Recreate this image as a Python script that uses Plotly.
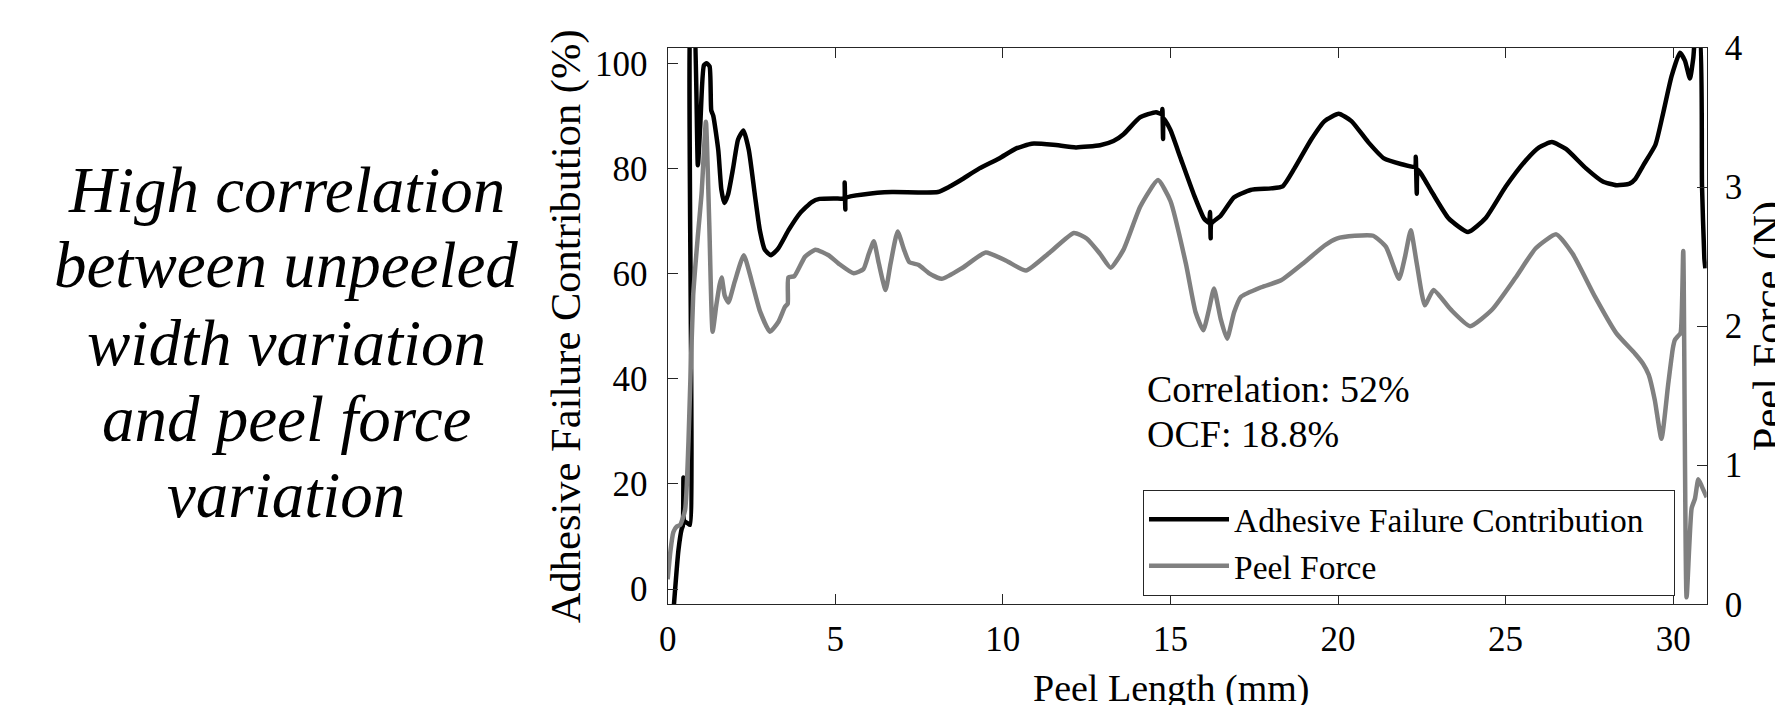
import plotly.graph_objects as go

# ---------------- data ----------------
afc_x = [0.17, 0.32, 0.42, 0.45, 0.47, 0.49, 0.60, 0.665, 0.70, 0.76, 0.90, 0.97, 1.08, 1.16, 1.25,
         1.30, 1.36, 1.51, 1.60, 1.69, 1.80, 1.95, 2.10, 2.26, 2.42, 2.60, 2.75, 2.90, 3.08, 3.30,
         3.61, 3.95, 4.30, 4.53, 5.00, 5.26, 5.28, 5.30, 5.32, 5.89, 6.69, 8.06, 8.40, 8.75, 9.30,
         9.89, 10.40, 10.86, 11.50, 12.18, 12.90, 13.30, 13.60, 14.09, 14.57, 14.74, 14.76, 14.78,
         14.80, 15.00, 15.30, 15.70, 16.00, 16.15, 16.18, 16.20, 16.22, 16.50, 16.90, 17.39, 18.00,
         18.35, 18.70, 19.20, 19.60, 20.02, 20.40, 20.90, 21.37, 21.90, 22.30, 22.32, 22.35, 22.38,
         22.80, 23.30, 23.88, 24.40, 25.00, 25.60, 26.00, 26.38, 26.80, 27.40, 27.90, 28.31, 28.70,
         28.87, 29.10, 29.47, 29.70, 29.95, 30.20, 30.35, 30.50, 30.60, 30.68, 30.78, 30.86, 30.93,
         30.96]
afc_pct = [-4.3, 7.4, 11.5, 12.0, 21.2, 13.0, 12.5, 12.2, 112.0, 112.0, 80.6, 88.0, 99.6, 100.0, 99.4,
           91.0, 90.0, 83.4, 76.0, 73.4, 75.0, 80.0, 85.5, 87.2, 83.5, 75.0, 68.2, 64.5, 63.5, 64.8,
           68.3, 71.5, 73.6, 74.2, 74.3, 74.3, 77.3, 72.2, 74.4, 75.1, 75.5, 75.5, 76.5, 77.8, 80.0,
           81.9, 83.8, 84.7, 84.5, 84.0, 84.4, 85.2, 86.5, 89.7, 90.7, 90.3, 91.3, 85.6,
           89.5, 87.3, 82.0, 75.0, 70.5, 69.6, 71.7, 66.7, 69.5, 71.0, 74.5, 75.9, 76.2,
           76.6, 80.0, 85.5, 89.0, 90.4, 89.0, 85.0, 81.9, 80.8, 80.3, 82.2, 75.2, 79.8,
           75.5, 70.5, 67.9, 70.5, 76.5, 81.5, 84.0, 85.0, 83.7, 80.0, 77.5, 76.8, 77.1,
           78.0, 80.5, 84.5, 90.5, 97.5, 102.0, 100.5, 97.1, 101.0, 106.0, 106.0, 76.7, 62.9,
           61.0]

force_x = [0.00, 0.08, 0.17, 0.27, 0.37, 0.52, 0.62, 0.76, 0.90, 1.01, 1.14, 1.24, 1.34, 1.45, 1.55,
           1.61, 1.70, 1.81, 2.00, 2.27, 2.50, 2.75, 3.05, 3.30, 3.50, 3.58, 3.60, 3.78, 4.10, 4.41,
           4.80, 5.10, 5.55, 5.84, 6.00, 6.15, 6.30, 6.50, 6.65, 6.86, 7.05, 7.21, 7.49, 7.80, 8.18,
           8.80, 9.49, 10.10, 10.69, 11.40, 12.12, 12.50, 12.90, 13.22, 13.60, 14.10, 14.63, 15.00,
           15.46, 15.75, 15.98, 16.15, 16.30, 16.50, 16.69, 16.90, 17.10, 17.71, 18.30, 19.00, 19.60,
           19.96, 20.50, 21.05, 21.43, 21.82, 22.00, 22.17, 22.35, 22.59, 22.85, 23.36, 23.94, 24.60,
           25.30, 25.90, 26.51, 27.00, 27.67, 28.30, 28.87, 29.10, 29.27, 29.45, 29.65, 29.85, 29.99,
           30.05, 30.15, 30.22, 30.30, 30.40, 30.55, 30.65, 30.75, 30.85, 31.00]
force_n = [0.18, 0.38, 0.52, 0.56, 0.57, 0.68, 1.17, 2.22, 2.65, 2.95, 3.47, 2.74, 1.96, 2.15, 2.30,
           2.35, 2.22, 2.17, 2.32, 2.51, 2.33, 2.11, 1.96, 2.03, 2.14, 2.16, 2.35, 2.36, 2.50, 2.55,
           2.51, 2.45, 2.38, 2.41, 2.52, 2.61, 2.45, 2.26, 2.45, 2.68, 2.55, 2.46, 2.44, 2.38, 2.34,
           2.42, 2.53, 2.47, 2.40, 2.53, 2.67, 2.63, 2.52, 2.42, 2.55, 2.86, 3.05, 2.90,
           2.45, 2.10, 1.97, 2.12, 2.27, 2.05, 1.91, 2.10, 2.21, 2.28, 2.33, 2.46, 2.58,
           2.63, 2.65, 2.65, 2.57, 2.34, 2.50, 2.69, 2.45, 2.15, 2.26, 2.12, 2.00, 2.12,
           2.35, 2.56, 2.66, 2.52, 2.21, 1.95, 1.80, 1.73, 1.65, 1.47, 1.19, 1.58, 1.84,
           1.90, 1.93, 1.95, 2.54, 0.05, 0.69, 0.76, 0.90, 0.85, 0.77]

x_ticks = [0, 5, 10, 15, 20, 25, 30]
left_ticks = [0, 20, 40, 60, 80, 100]
right_ticks = [0, 1, 2, 3, 4]

series_names = ["Adhesive Failure Contribution", "Peel Force"]
side_lines = ["High correlation", "between unpeeled", "width variation",
              "and peel force", "variation"]
stats_lines = ["Correlation: 52%", "OCF: 18.8%"]

# ---------------- figure ----------------
W, H = 1775, 705
FONT = "Liberation Serif"
AX = "#262626"
PAD = "\u00a0" * 3   # trailing room inside the legend box, as in the reference

def px(x):
    return x / W

def py(y):
    return (H - y) / H

fig = go.Figure()
fig.add_trace(go.Scatter(x=afc_x, y=afc_pct, mode="lines", name=series_names[0] + PAD,
                         line=dict(color="#000000", width=4.5, shape="spline", smoothing=0.5),
                         yaxis="y"))
fig.add_trace(go.Scatter(x=force_x, y=force_n, mode="lines", name=series_names[1],
                         line=dict(color="#808080", width=4.5, shape="spline", smoothing=0.5),
                         yaxis="y2"))

left, right, top, bottom = 667.7, 1706.7, 48.0, 604.3
tickfont = dict(family=FONT, size=35, color="#000000")
common = dict(ticks="inside", ticklen=10, tickcolor=AX, tickwidth=1.3, showline=True,
              linecolor=AX, linewidth=1.3, showgrid=False, zeroline=False,
              tickfont=tickfont, automargin=False)

fig.update_layout(
    template="none",
    width=W, height=H,
    margin=dict(l=0, r=0, t=0, b=0, pad=0),
    paper_bgcolor="white", plot_bgcolor="white",
    showlegend=True,
    xaxis=dict(domain=[px(left), px(right)], range=[0, 31], tickvals=x_ticks,
               mirror="ticks", ticklabelstandoff=4, anchor="y", **common),
    yaxis=dict(domain=[py(bottom), py(top)], range=[-2.9, 102.9], tickvals=left_ticks,
               ticklabelstandoff=12, anchor="x", **common),
    yaxis2=dict(overlaying="y", side="right", range=[0, 4], tickvals=right_ticks,
                ticklabelstandoff=10, anchor="x", **common),
    legend=dict(x=px(1143), y=py(490), xanchor="left", yanchor="top",
                bgcolor="white", bordercolor=AX, borderwidth=1,
                font=dict(family=FONT, size=33.5, color="#000000"),
                itemwidth=80, tracegroupgap=0),
)

ann = []
# axis titles
ann.append(dict(text="Peel Length (mm)", x=px(1171), y=py(688), xref="paper",
                yref="paper", xanchor="center", yanchor="middle", showarrow=False,
                font=dict(family=FONT, size=38, color="#000000")))
ann.append(dict(text="Adhesive Failure Contribution (%)", x=px(566), y=py((top + bottom) / 2),
                xref="paper", yref="paper", xanchor="center", yanchor="middle",
                textangle=-90, showarrow=False,
                font=dict(family=FONT, size=42.5, color="#000000")))
ann.append(dict(text="Peel Force (N)", x=px(1768), y=py((top + bottom) / 2),
                xref="paper", yref="paper", xanchor="center", yanchor="middle",
                textangle=-90, showarrow=False,
                font=dict(family=FONT, size=42.5, color="#000000")))
# stats text
for t, yy in zip(stats_lines, [389, 434]):
    ann.append(dict(text=t, x=px(1145), y=py(yy), xref="paper", yref="paper",
                    xanchor="left", yanchor="middle", showarrow=False,
                    font=dict(family=FONT, size=38, color="#000000")))
# side italic text
for t, yy in zip(side_lines, [190, 265, 343, 419, 495]):
    ann.append(dict(text="<i>" + t + "</i>", x=px(286), y=py(yy), xref="paper", yref="paper",
                    xanchor="center", yanchor="middle", showarrow=False,
                    font=dict(family=FONT, size=65, color="#000000")))
fig.update_layout(annotations=ann)

fig.write_html("out.html", include_plotlyjs=True,
               config={"displayModeBar": False, "responsive": False},
               post_script="document.body.style.margin='0';document.body.style.overflow='hidden';")
